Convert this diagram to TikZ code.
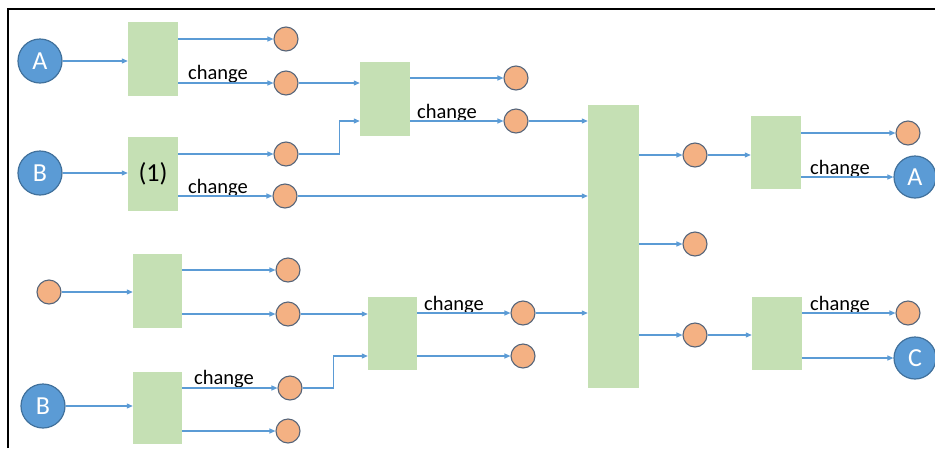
\documentclass[tikz,border=0pt]{standalone}
\usepackage{fontspec}
\setmainfont{Carlito}
\usetikzlibrary{arrows.meta}
\definecolor{flowblue}{HTML}{5B9BD5}
\definecolor{ringblue}{HTML}{41719C}
\definecolor{dotfill}{HTML}{F4B183}
\definecolor{dotring}{HTML}{56657A}
\definecolor{boxgreen}{HTML}{C5E0B4}
\tikzset{
  bigdot/.style={circle, fill=flowblue, draw=ringblue, line width=1.2pt, minimum size=44pt, inner sep=0pt, text=white, font=\fontsize{26}{26}\selectfont},
  dot/.style={circle, fill=dotfill, draw=dotring, line width=1.1pt, minimum size=24pt, inner sep=0pt},
  gbox/.style={rectangle, fill=boxgreen, inner sep=0pt, minimum width=50pt},
  lbl/.style={anchor=base west, inner sep=0pt, font=\fontsize{20.5}{20.5}\selectfont},
  arr/.style={draw=flowblue, line width=1.1pt, -{Triangle[length=6pt,width=5pt]}},
}
\begin{document}
\begin{tikzpicture}[x=1pt, y=-1pt]
\useasboundingbox (0,0) rectangle (935,448);
% frame edges
\draw[line width=2pt] (8,448) -- (8,9) -- (935,9);

% processing boxes
\node[gbox, minimum height=74pt] (b1) at (153,59) {};
\node[gbox, minimum height=74pt, font=\fontsize{26}{26}\selectfont] (b2) at (153,173.5) {(1)};
\node[gbox, minimum width=49pt, minimum height=74pt] (b3) at (157.5,291) {};
\node[gbox, minimum width=49pt, minimum height=72pt] (b4) at (157.5,408) {};
\node[gbox, minimum height=74pt] (b5) at (385,99) {};
\node[gbox, minimum width=49pt, minimum height=73pt] (b6) at (392.5,333.5) {};
\node[gbox, minimum width=51pt, minimum height=283pt] (bb) at (613.5,246.5) {};
\node[gbox, minimum height=73pt] (b7) at (776,152.5) {};
\node[gbox, minimum height=73pt] (b8) at (777,333.5) {};

% labelled states
\node[bigdot] (A1) at (40,61) {A};
\node[bigdot] (B1) at (40,173) {B};
\node[bigdot] (B2) at (43,406) {B};
\node[bigdot, minimum size=42pt] (A2) at (915,177) {A};
\node[bigdot, minimum size=42pt] (C1) at (915,358) {C};

% intermediate states
\node[dot] (o1) at (286,39) {};
\node[dot] (o2) at (286,83) {};
\node[dot] (o3) at (286,154) {};
\node[dot] (o4) at (285,196) {};
\node[dot] (o5) at (516,78) {};
\node[dot] (o6) at (516,121) {};
\node[dot] (o7) at (695,155) {};
\node[dot] (o8) at (695,244) {};
\node[dot] (o9) at (695,335) {};
\node[dot] (o10) at (908,133) {};
\node[dot] (o11) at (908,313) {};
\node[dot] (o12) at (49,292) {};
\node[dot] (o13) at (288,270) {};
\node[dot] (o14) at (288,314) {};
\node[dot] (o15) at (290,388) {};
\node[dot] (o16) at (288,431) {};
\node[dot] (o17) at (523,313) {};
\node[dot] (o18) at (523,356) {};

% labels
\node[lbl] (l1) at (188,79) {change};
\node[lbl] (l2) at (188,193) {change};
\node[lbl] (l3) at (417,118) {change};
\node[lbl] (l4) at (810,174) {change};
\node[lbl] (l5) at (810,310) {change};
\node[lbl] (l6) at (424,310) {change};
\node[lbl] (l7) at (194,384) {change};

% top-left group
\draw[arr] (A1) -- (A1 -| b1.west);
\draw[arr] (b1.east |- o1) -- (o1);
\draw[arr] (b1.east |- o2) -- (o2);
\draw[arr] (B1) -- (B1 -| b2.west);
\draw[arr] (b2.east |- o3) -- (o3);
\draw[arr] (b2.east |- o4) -- (o4);
\draw[arr] (o2) -- (o2 -| b5.west);
\draw[arr] (o3.east) -- ++(41,0) |- (b5.west |- o6);
\draw[arr] (o4) -- (o4 -| bb.west);
\draw[arr] (b5.east |- o5) -- (o5);
\draw[arr] (b5.east |- o6) -- (o6);
\draw[arr] (o6) -- (o6 -| bb.west);

% bottom-left group
\draw[arr] (o12) -- (o12 -| b3.west);
\draw[arr] (b3.east |- o13) -- (o13);
\draw[arr] (b3.east |- o14) -- (o14);
\draw[arr] (o14) -- (o14 -| b6.west);
\draw[arr] (B2) -- (B2 -| b4.west);
\draw[arr] (b4.east |- o15) -- (o15);
\draw[arr] (b4.east |- o16) -- (o16);
\draw[arr] (o15.east) -- ++(31,0) |- (b6.west |- o18);
\draw[arr] (b6.east |- o17) -- (o17);
\draw[arr] (b6.east |- o18) -- (o18);
\draw[arr] (o17) -- (o17 -| bb.west);

% right side
\draw[arr] (bb.east |- o7) -- (o7);
\draw[arr] (bb.east |- o8) -- (o8);
\draw[arr] (bb.east |- o9) -- (o9);
\draw[arr] (o7) -- (o7 -| b7.west);
\draw[arr] (o9) -- (o9 -| b8.west);
\draw[arr] (b7.east |- o10) -- (o10);
\draw[arr] (b7.east |- A2) -- (A2);
\draw[arr] (b8.east |- o11) -- (o11);
\draw[arr] (b8.east |- C1) -- (C1);
\end{tikzpicture}
\end{document}
